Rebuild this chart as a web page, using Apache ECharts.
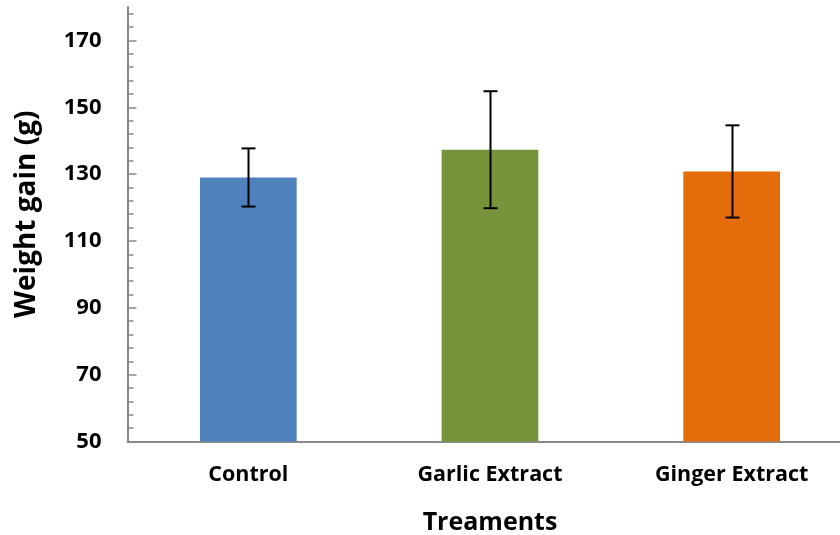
<!DOCTYPE html>
<html>
<head>
<meta charset="utf-8">
<script src="https://cdn.jsdelivr.net/npm/echarts@6/dist/echarts.min.js"></script>
<style>html,body{margin:0;padding:0;background:#fff;}#c{width:840px;height:535px;}</style>
</head>
<body>
<div id="c"></div>
<script>
const categories = ['Control', 'Garlic Extract', 'Ginger Extract'];
const means = [129, 137.3, 130.8];
const errors = [8.7, 17.5, 13.8];
const colors = ['#4F81BD', '#77933C', '#E46C0A'];
const yLabels = [50, 70, 90, 110, 130, 150, 170];
const yMin = 50, yMax = 180;
const minorTicks = [];
for (let v = yMin; v < yMax; v += 4) minorTicks.push(v);

const FONT = '"Open Sans"';
const GRAY = '#898989';
const chart = echarts.init(document.getElementById('c'), null, {renderer: 'canvas'});
chart.setOption({
  animation: false,
  grid: {left: 127.5, right: -12.5, top: 7, bottom: 93.5, containLabel: false, outerBoundsMode: 'none'},
  xAxis: {
    type: 'category',
    data: categories,
    name: 'Treaments',
    nameLocation: 'middle',
    nameGap: 69,
    nameTextStyle: {fontFamily: FONT, fontWeight: 'bold', fontSize: 25, color: '#000'},
    axisLine: {lineStyle: {color: GRAY, width: 2}},
    axisTick: {show: false},
    axisLabel: {fontFamily: FONT, fontWeight: 'bold', fontSize: 21.5, color: '#000', margin: 22}
  },
  yAxis: [{
    type: 'value', min: yMin, max: yMax,
    name: 'Weight gain (g)',
    nameLocation: 'middle',
    nameGap: 86,
    nameTextStyle: {fontFamily: FONT, fontWeight: 'bold', fontSize: 28, color: '#000', padding: [0, 0, 0, 20]},
    axisLine: {show: true, lineStyle: {color: GRAY, width: 2}},
    axisTick: {show: true, inside: true, length: 9, lineStyle: {color: GRAY, width: 1.5}, customValues: yLabels},
    axisLabel: {fontFamily: FONT, fontWeight: 'bold', fontSize: 22, color: '#000', margin: 26, customValues: yLabels},
    splitLine: {show: false}
  }, {
    type: 'value', min: yMin, max: yMax, position: 'left',
    axisLine: {show: false},
    axisTick: {show: true, inside: true, length: 6, lineStyle: {color: GRAY, width: 1.5}, customValues: minorTicks},
    axisLabel: {show: false},
    splitLine: {show: false}
  }],
  series: [{
    type: 'bar',
    barWidth: '40%',
    data: means.map((v, i) => ({value: v, itemStyle: {color: colors[i]}}))
  }, {
    type: 'custom',
    z: 10,
    data: means.map((m, i) => [i, m - errors[i], m + errors[i]]),
    renderItem: function (params, api) {
      const lo = api.coord([api.value(0), api.value(1)]);
      const hi = api.coord([api.value(0), api.value(2)]);
      const x = Math.round(lo[0]) + 0.5;
      const hw = 7;
      const st = {stroke: '#000', lineWidth: 2};
      return {type: 'group', children: [
        {type: 'line', shape: {x1: x, y1: hi[1], x2: x, y2: lo[1]}, style: st},
        {type: 'line', shape: {x1: x - hw, y1: hi[1], x2: x + hw, y2: hi[1]}, style: st},
        {type: 'line', shape: {x1: x - hw, y1: lo[1], x2: x + hw, y2: lo[1]}, style: st}
      ]};
    }
  }]
});
</script>
</body>
</html>
